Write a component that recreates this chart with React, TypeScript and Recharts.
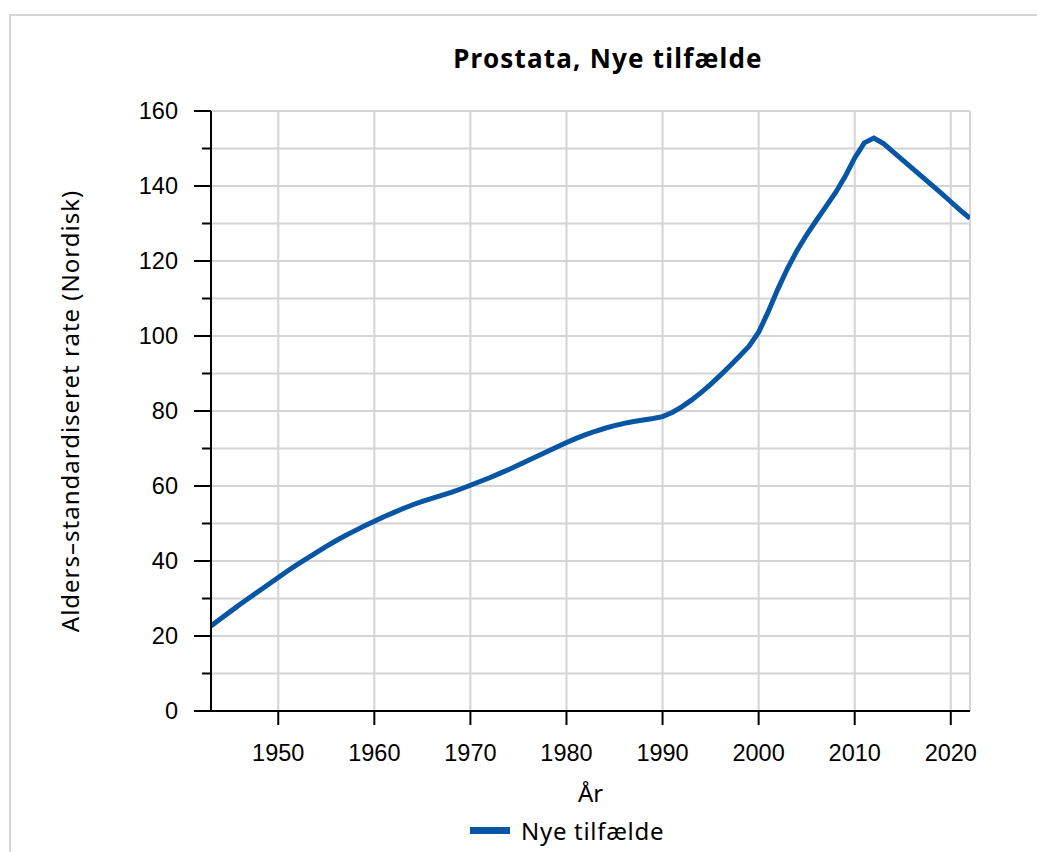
import { LineChart, Line, XAxis, YAxis, CartesianGrid, Legend } from 'recharts'

const YEARS = [
  1943, 1944, 1945, 1946, 1947, 1948, 1949, 1950, 1951, 1952, 1953, 1954, 1955, 1956, 1957, 1958,
  1959, 1960, 1961, 1962, 1963, 1964, 1965, 1966, 1967, 1968, 1969, 1970, 1971, 1972, 1973, 1974,
  1975, 1976, 1977, 1978, 1979, 1980, 1981, 1982, 1983, 1984, 1985, 1986, 1987, 1988, 1989, 1990,
  1991, 1992, 1993, 1994, 1995, 1996, 1997, 1998, 1999, 2000, 2001, 2002, 2003, 2004, 2005, 2006,
  2007, 2008, 2009, 2010, 2011, 2012, 2013, 2014, 2015, 2016, 2017, 2018, 2019, 2020, 2021, 2022,
]

const NEW_CASES = [
  22.7, 24.6, 26.5, 28.4, 30.2, 32.0, 33.8, 35.6, 37.4, 39.1, 40.7, 42.3, 43.9, 45.4, 46.8, 48.1,
  49.4, 50.6, 51.8, 52.9, 54.0, 55.0, 55.9, 56.7, 57.5, 58.3, 59.2, 60.2, 61.2, 62.2, 63.3, 64.4,
  65.6, 66.8, 68.0, 69.2, 70.4, 71.6, 72.7, 73.7, 74.6, 75.4, 76.1, 76.7, 77.2, 77.6, 78.0, 78.5,
  79.6, 81.1, 82.9, 84.9, 87.1, 89.5, 92.0, 94.6, 97.3, 101.0, 106.5, 112.5, 118.0, 122.8, 127.0, 130.8,
  134.5, 138.2, 142.5, 147.5, 151.5, 152.8, 151.3, 149.1, 146.9, 144.7, 142.5, 140.3, 138.1, 135.8, 133.5, 131.4,
]

const X_TICKS = [1950, 1960, 1970, 1980, 1990, 2000, 2010, 2020]
const Y_TICKS = [0, 10, 20, 30, 40, 50, 60, 70, 80, 90, 100, 110, 120, 130, 140, 150, 160]

const data = YEARS.map((year, i) => ({ year, cases: NEW_CASES[i] }))

const BLUE = '#0656a5'
const TICK_FONT = '"Liberation Sans", Arial, sans-serif'
const LABEL_FONT = '"Noto Sans", sans-serif'

const Y_TICK_SIZE = 17
const Y_TICK_MARGIN = 16

function YTick({ x, y, payload }: any) {
  const axisX = x + Y_TICK_SIZE + Y_TICK_MARGIN
  const major = payload.value % 20 === 0
  return (
    <g>
      <line
        x1={axisX - (major ? Y_TICK_SIZE : 9)}
        x2={axisX}
        y1={y}
        y2={y}
        stroke="#000"
        strokeWidth={2}
      />
      {major && (
        <text
          x={x}
          y={y}
          dy="0.36em"
          textAnchor="end"
          fontSize={23.5}
          fontFamily={TICK_FONT}
          fill="#000"
        >
          {payload.value}
        </text>
      )}
    </g>
  )
}

function LegendContent() {
  return (
    <div style={{ display: 'flex', alignItems: 'center', fontFamily: LABEL_FONT, fontSize: 24, letterSpacing: 0.7 }}>
      <span style={{ display: 'inline-block', width: 40, height: 7, background: BLUE, marginRight: 11 }} />
      <span style={{ color: '#000' }}>Nye tilfælde</span>
    </div>
  )
}

export default function App() {
  return (
    <div style={{ position: 'absolute', left: 0, top: 0, width: 1037, height: 852, background: '#fff' }}>
      <div
        style={{
          position: 'absolute',
          left: 9,
          top: 14,
          width: 1040,
          height: 860,
          borderLeft: '2px solid #d6d6d6',
          borderTop: '2px solid #d6d6d6',
        }}
      />
      <div
        style={{
          position: 'absolute',
          left: 608,
          top: 40,
          transform: 'translateX(-50%)',
          fontFamily: LABEL_FONT,
          fontWeight: 700,
          fontSize: 26,
          letterSpacing: 1.2,
          whiteSpace: 'nowrap',
          color: '#000',
        }}
      >
        Prostata, Nye tilfælde
      </div>
      <LineChart
        width={1037}
        height={852}
        data={data}
        margin={{ top: 111, right: 67, bottom: 41, left: 0 }}
        style={{ position: 'absolute', left: 0, top: 0 }}
      >
        <CartesianGrid stroke="#d4d4d4" strokeWidth={2} />
        <XAxis
          dataKey="year"
          type="number"
          domain={[1943, 2022]}
          ticks={X_TICKS}
          allowDataOverflow
          height={100}
          tickSize={14}
          tickMargin={19}
          stroke="#000"
          strokeWidth={2}
          tick={{ fontSize: 23.5, fontFamily: TICK_FONT, fill: '#000' }}
          label={{
            value: 'År',
            position: 'insideBottom',
            offset: 9,
            style: { fontSize: 24, fontFamily: LABEL_FONT, fill: '#000' },
          }}
        />
        <YAxis
          domain={[0, 160]}
          ticks={Y_TICKS}
          interval={0}
          width={211}
          tickSize={Y_TICK_SIZE}
          tickMargin={Y_TICK_MARGIN}
          tickLine={false}
          stroke="#000"
          strokeWidth={2}
          tick={<YTick />}
          label={{
            value: 'Alders–standardiseret rate (Nordisk)',
            angle: -90,
            position: 'insideLeft',
            offset: 70,
            style: { textAnchor: 'middle', fontSize: 24, letterSpacing: 1, fontFamily: LABEL_FONT, fill: '#000' },
          }}
        />
        <Legend
          layout="horizontal"
          verticalAlign="middle"
          align="center"
          content={<LegendContent />}
          wrapperStyle={{ left: 470, top: 814, width: 'auto' }}
        />
        <Line
          type="linear"
          dataKey="cases"
          name="Nye tilfælde"
          stroke={BLUE}
          strokeWidth={5}
          dot={false}
          isAnimationActive={false}
        />
      </LineChart>
    </div>
  )
}
